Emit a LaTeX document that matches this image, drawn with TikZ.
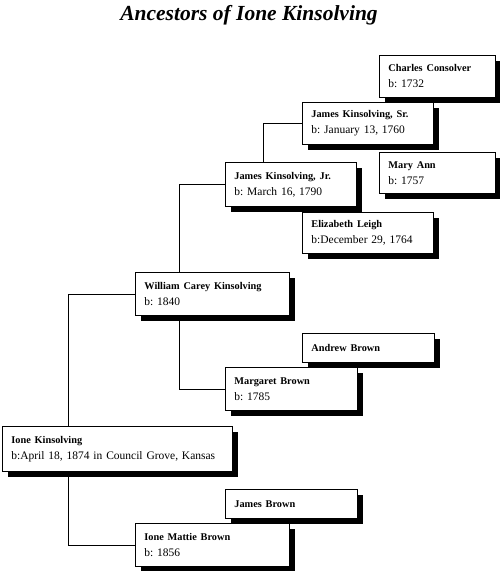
\documentclass[tikz,border=0pt]{standalone}
\usepackage{fontspec}
\setmainfont{Liberation Serif}
\usetikzlibrary{shadows}
\frenchspacing
\newcommand{\who}[1]{{\bfseries\fontsize{10.3}{16}\selectfont #1}}

\begin{document}
\begin{tikzpicture}[x=1pt, y=-1pt,
  person/.style={draw, fill=white, line width=0.8pt, anchor=north west, inner xsep=9pt, inner ysep=0pt, align=left, font=\fontsize{11.5}{16}\selectfont, drop shadow={fill=black, opacity=1, shadow xshift=6pt, shadow yshift=-6pt}},
  link/.style={line width=0.8pt}]
\useasboundingbox (0,0) rectangle (500,571);
\node[font=\bfseries\itshape\fontsize{21.5}{24}\selectfont, anchor=base] (title) at (249,20) {Ancestors of Ione Kinsolving};
\node[person, text width=98pt, minimum height=42pt] (CC) at (379,55) {\who{Charles Consolver}\\b: 1732};
\node[person, text width=113pt, minimum height=42pt] (JKS) at (302,102) {\who{James Kinsolving, Sr.}\\b: January 13, 1760};
\node[person, text width=98pt, minimum height=41pt] (MA) at (379,152) {\who{Mary Ann}\\b: 1757};
\node[person, text width=113pt, minimum height=44pt] (JKJ) at (225,162) {\who{James Kinsolving, Jr.}\\b: March 16, 1790};
\node[person, text width=113pt, minimum height=41pt] (EL) at (302,212) {\who{Elizabeth Leigh}\\b:December 29, 1764};
\node[person, text width=136pt, minimum height=43pt] (WCK) at (135,272) {\who{William Carey Kinsolving}\\b: 1840};
\node[person, text width=114pt, minimum height=29pt] (AB) at (302,333) {\who{Andrew Brown}};
\node[person, text width=114pt, minimum height=43pt] (MB) at (225,367) {\who{Margaret Brown}\\b: 1785};
\node[person, text width=212pt, minimum height=45pt] (IK) at (2,426) {\who{Ione Kinsolving}\\b:April 18, 1874 in Council Grove, Kansas};
\node[person, text width=114pt, minimum height=29pt] (JB) at (225,489) {\who{James Brown}};
\node[person, text width=136pt, minimum height=43pt] (IMB) at (135,523) {\who{Ione Mattie Brown}\\b: 1856};
\draw[link] (JKS.west) -| ([xshift=38pt]JKJ.north west);
\draw[link] (JKJ.west) -| ([xshift=44pt]WCK.north west);
\draw[link] ([xshift=44pt]WCK.south west) |- (MB.west);
\draw[link] ([xshift=66pt]IK.north west) |- (WCK.west);
\draw[link] ([xshift=66pt]IK.south west) |- (IMB.west);
\end{tikzpicture}
\end{document}
